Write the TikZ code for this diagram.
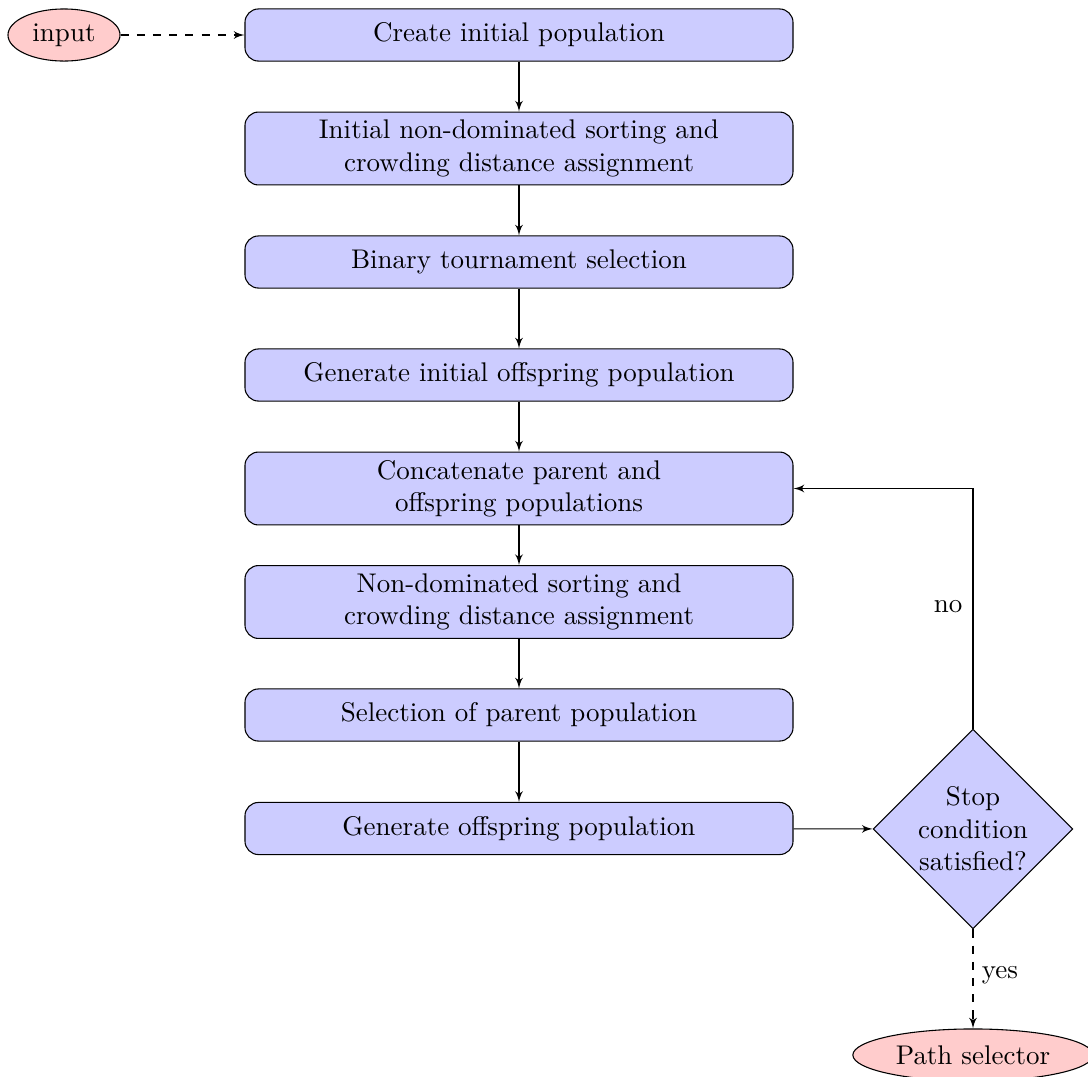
\documentclass[tikz,border=0pt]{standalone}
\usetikzlibrary{shapes.geometric,arrows}
\begin{document}
\begin{tikzpicture}[x=0.3704pt,y=-0.3704pt,
  block/.style={rectangle,draw,fill=blue!20,rounded corners=5pt,align=center,minimum width=203pt,inner sep=0pt},
  short/.style={block,minimum height=19.3pt},
  tall/.style={block,minimum height=27pt},
  term/.style={ellipse,draw,fill=red!20,inner sep=0pt},
  decision/.style={diamond,draw,fill=blue!20,align=center,minimum width=74pt,minimum height=74pt,inner sep=0pt},
  line/.style={draw,-latex'},
  dline/.style={draw,dashed,-latex'}]
\useasboundingbox (0,0) rectangle (1088,1077);
\node[term,minimum width=41.5pt,minimum height=19.3pt] (input) at (64,35) {input};
\node[short] (b1) at (519,35) {Create initial population};
\node[tall] (b2) at (519,148.5) {Initial non-dominated sorting and\\crowding distance assignment};
\node[short] (b3) at (519,262) {Binary tournament selection};
\node[short] (b4) at (519,375) {Generate initial offspring population};
\node[tall] (b5) at (519,488.5) {Concatenate parent and\\offspring populations};
\node[tall] (b6) at (519,602) {Non-dominated sorting and\\crowding distance assignment};
\node[short] (b7) at (519,715) {Selection of parent population};
\node[short] (b8) at (519,828.5) {Generate offspring population};
\node[decision] (d) at (973,829) {Stop\\condition\\satisfied?};
\node[term,minimum width=89pt,minimum height=19.3pt] (ps) at (973,1055) {Path selector};
\coordinate (c) at (973,488.5);
\draw[dline] (input) -- (b1);
\draw[line] (b1) -- (b2);
\draw[line] (b2) -- (b3);
\draw[line] (b3) -- (b4);
\draw[line] (b4) -- (b5);
\draw[line] (b5) -- (b6);
\draw[line] (b6) -- (b7);
\draw[line] (b7) -- (b8);
\draw[line] (b8) -- (d);
\draw[line] (d) -- (c) -- (b5);
\draw[dline] (d) -- (ps);
\node (no) at (948,607) {no};
\node (yes) at (1000,975) {yes};
\end{tikzpicture}
\end{document}
